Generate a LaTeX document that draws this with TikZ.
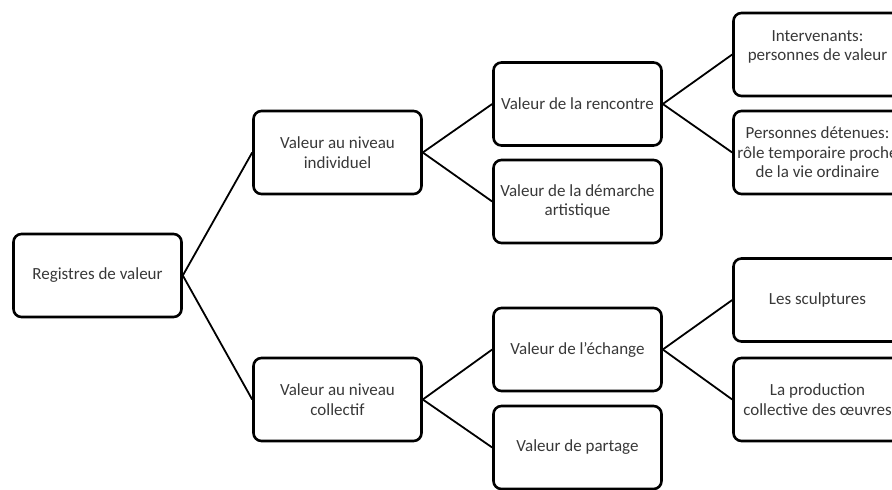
\documentclass[tikz,border=0pt]{standalone}
\usepackage{fontspec}
\setmainfont{Carlito}
\begin{document}
\begin{tikzpicture}[x=1pt,y=-1pt,
    valbox/.style={draw=black, line width=2.6pt, rounded corners=8pt,
      minimum width=168pt, minimum height=83pt, align=center,
      text=black!78, font=\fontsize{17}{19.5}\selectfont},
    link/.style={draw=black, line width=1.8pt}]
  \useasboundingbox (0,0) rectangle (892,490);
  %\node at (446,0) {Registres};
  \node[valbox] (root) at (97.5,275.5) {Registres de valeur};
  \node[valbox] (indiv) at (337.5,152.5) {Valeur au niveau\\individuel};
  \node[valbox] (coll) at (337.5,399.5) {Valeur au niveau\\collectif};
  \node[valbox] (renc) at (577.5,104) {Valeur de la rencontre};
  \node[valbox] (dem) at (577.5,201.5) {Valeur de la démarche\\artistique};
  \node[valbox] (ech) at (577.5,349.5) {Valeur de l’échange};
  \node[valbox] (part) at (577.5,447.5) {Valeur de partage};
  \node[valbox, text depth=18pt] (interv) at (817.5,54.5) {Intervenants:\\personnes de valeur};
  \node[valbox] (deten) at (817.5,152.5) {Personnes détenues:\\rôle temporaire proche\\de la vie ordinaire};
  \node[valbox] (sculpt) at (817.5,300) {Les sculptures};
  \node[valbox] (prod) at (817.5,399.5) {La production\\collective des œuvres};
  \foreach \a/\b in {root/indiv, root/coll, indiv/renc, indiv/dem,
      coll/ech, coll/part, renc/interv, renc/deten, ech/sculpt, ech/prod} {
    \draw[link] (\a.east) -- (\b.west);
  }
\end{tikzpicture}
\end{document}
